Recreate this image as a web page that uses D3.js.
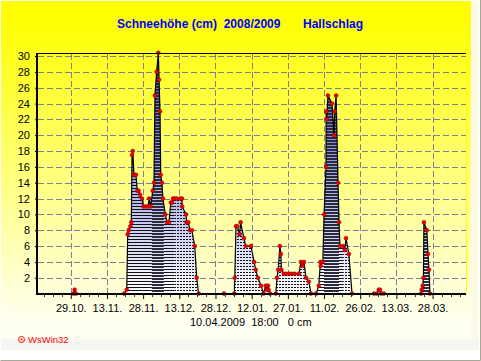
<!DOCTYPE html>
<html><head><meta charset="utf-8">
<script src="https://cdn.jsdelivr.net/npm/d3@7/dist/d3.min.js"></script>
<style>html,body{margin:0;padding:0;background:#fff;overflow:hidden}svg{display:block}
text{font-family:"Liberation Sans",Arial,sans-serif}</style></head><body>
<div id="c"></div>
<script>
// days after 29.10.2008 of each reading, with its snow height in cm
const days = [1.1,1.6,2.1,22.1,23.2,23.6,24.0,24.7,25.1,25.4,25.7,26.2,27.0,27.6,28.1,28.7,29.5,30.1,31.1,32.0,32.5,33.1,34.0,34.5,34.9,35.6,36.3,36.6,37.0,37.3,37.8,38.2,39.2,39.9,40.7,41.5,42.0,42.4,43.1,43.9,45.4,46.1,46.2,47.8,48.0,48.7,49.4,50.2,51.4,52.2,53.0,63.5,67.8,68.0,68.5,69.0,70.0,70.4,71.8,72.5,74.7,76.0,76.7,77.6,78.9,79.9,80.8,81.2,81.8,82.0,82.6,85.0,85.5,86.0,86.7,87.1,87.3,88.3,89.4,90.7,91.7,92.9,94.6,95.4,96.1,96.7,97.5,98.7,99.6,101.7,102.8,103.5,103.6,104.5,105.0,105.8,105.9,106.1,106.6,108.3,109.1,109.4,110.0,110.8,111.2,111.6,112.9,113.6,114.1,115.3,116.6,125.7,126.8,127.7,128.2,128.7,129.8,145.2,145.5,145.9,146.2,146.4,147.6,148.1,148.5,148.9];
const snow = [0,0.5,0,0,0.5,7.5,8,8.5,9,17.5,18,15,15,13,13,12.5,12,11,11,11,12,11,13,14,25,28,30.4,27,23,15,14,12,10,9,9,11.5,11.5,12,12,12,12,12,11,10,9,9,8,8,6,2,0,0,0,2,8.5,8.5,7.5,9,7,6,6,4,3,2,1,0,1,0.5,1,0.5,0,0,2,3,6,5,3,2.5,2.5,2.5,2.5,2.5,2.5,4,3.5,4,2,1.5,0,0,1,4,3.5,4,10,16,23,22,25,24,20,23,25,14,9,6,6,5.5,7,5,0,0,0,0.5,0.5,0,0,0,0.5,1,2,9,8,5,3,0];
const xTickDays = [0,15,30,45,60,75,90,105,120,135,150];
const xTickLabels = ["29.10.","13.11.","28.11.","13.12.","28.12.","12.01.","27.01.","11.02.","26.02.","13.03.","28.03."];
const yTickValues = [2,4,6,8,10,12,14,16,18,20,22,24,26,28,30];
const title = ["Schneehöhe (cm)  2008/2009","Hallschlag"];
const footer = "10.04.2009  18:00   0 cm";
const credit = "WsWin32";
// how the sample columns moire in the fill: [first day, last day]
const denseSpans = [[33.6,38.6],[105,111.2],[145,148.9]];
const rowSpans = [[23,33.6],[38.6,43],[102,105],[111.2,113]];
const dotSpans = [[43,54],[67,83],[84,100],[113,117]];

const W=481,H=361;
const svg=d3.select("#c").append("svg").attr("width",W).attr("height",H);
const defs=svg.append("defs");
const bg=defs.append("linearGradient").attr("id","bg").attr("gradientUnits","userSpaceOnUse").attr("x1",0).attr("x2",0).attr("y1",20).attr("y2",325);
bg.append("stop").attr("offset",0).attr("stop-color","#ffff00");
bg.append("stop").attr("offset",1).attr("stop-color","#fffff4");
const fg=defs.append("linearGradient").attr("id","fg").attr("gradientUnits","userSpaceOnUse").attr("x1",0).attr("x2",0).attr("y1",70).attr("y2",294);
fg.append("stop").attr("offset",0).attr("stop-color","#5a62c8");
fg.append("stop").attr("offset",0.55).attr("stop-color","#b0b6ee");
fg.append("stop").attr("offset",1).attr("stop-color","#ffffff");
const patDense=defs.append("pattern").attr("id","dense").attr("patternUnits","userSpaceOnUse").attr("width",3).attr("height",3).attr("y",293);
patDense.append("rect").attr("width",3).attr("height",2).attr("fill","#2a2a3a");
const patRows=defs.append("pattern").attr("id","rows").attr("patternUnits","userSpaceOnUse").attr("width",3).attr("height",3).attr("y",293);
patRows.append("rect").attr("width",3).attr("height",1).attr("fill","#111");
const patDots=defs.append("pattern").attr("id","dots").attr("patternUnits","userSpaceOnUse").attr("width",3).attr("height",3).attr("y",293);
patDots.append("rect").attr("width",2).attr("height",1).attr("fill","#111");

svg.append("rect").attr("width",W).attr("height",H).attr("fill","#ffffff");
svg.append("rect").attr("x",1).attr("y",339).attr("width",478).attr("height",11).attr("fill","#f5f6f2");
svg.append("rect").attr("x",1).attr("y",1).attr("width",470).attr("height",338).attr("fill","url(#bg)");
svg.append("rect").attr("x",471).attr("y",1).attr("width",8).attr("height",338).attr("fill","#fbfbe8");
svg.append("path").attr("d",`M0.5,360.5H480.5V0`).attr("fill","none").attr("stroke","#aca899");

const x=d3.scaleLinear().domain([-14,163.85]).range([37,466]);
const y=d3.scaleLinear().domain([0,30]).range([293.6,56]);

// grid
const gg=svg.append("g").attr("stroke","#807f96").attr("stroke-dasharray","6,3").attr("stroke-width",1);
gg.selectAll("line.h").data(yTickValues).join("line").attr("x1",38).attr("x2",466)
  .attr("y1",d=>Math.round(y(d))+.5).attr("y2",d=>Math.round(y(d))+.5);
gg.selectAll("line.v").data(xTickDays).join("line").attr("x1",d=>Math.round(x(d))+.5).attr("x2",d=>Math.round(x(d))+.5)
  .attr("y1",54).attr("y2",293);

// area
const pts=days.map((d,i)=>[d,snow[i]]);
const area=d3.area().x(d=>x(d[0])).y0(y(0)).y1(d=>y(d[1]));
const line=d3.line().x(d=>x(d[0])).y(d=>y(d[1]));
svg.append("path").attr("d",area(pts)).attr("fill","url(#fg)");
function hatch(spans,id){
  spans.forEach((s,i)=>{
    const cid=`${id}${i}`;
    defs.append("clipPath").attr("id",cid).append("rect").attr("x",x(s[0])).attr("width",x(s[1])-x(s[0])).attr("y",50).attr("height",245);
    svg.append("path").attr("d",area(pts)).attr("fill",`url(#${id})`).attr("clip-path",`url(#${cid})`).attr("shape-rendering","crispEdges");
  });
}
hatch(denseSpans,"dense");hatch(rowSpans,"rows");hatch(dotSpans,"dots");
svg.append("path").attr("d",line(pts)).attr("fill","none").attr("stroke","#000").attr("stroke-width",1.2);

// marks
svg.append("g").selectAll("circle").data(pts.filter(d=>d[1]>0||true)).join("circle")
  .attr("cx",d=>x(d[0])).attr("cy",d=>y(d[1])).attr("r",2).attr("fill","#f00000").attr("stroke","#700").attr("stroke-width",.4);

// frame
svg.append("line").attr("x1",37).attr("x2",466).attr("y1",53.5).attr("y2",53.5).attr("stroke","#000");
svg.append("line").attr("x1",466.5).attr("x2",466.5).attr("y1",54).attr("y2",293).attr("stroke","#ffff00");
svg.append("line").attr("x1",37).attr("x2",37).attr("y1",53).attr("y2",295).attr("stroke","#000").attr("stroke-width",2);
svg.append("line").attr("x1",36).attr("x2",466).attr("y1",294).attr("y2",294).attr("stroke","#000").attr("stroke-width",2);

// axes
const xa=d3.axisBottom(x).tickValues(xTickDays).tickSize(5).tickPadding(5).tickFormat((d,i)=>xTickLabels[i]);
const gx=svg.append("g").attr("transform","translate(0,294)").call(xa);
gx.select(".domain").remove();
gx.selectAll("text").attr("font-size",11).attr("fill","#000");
svg.append("g").selectAll("line").data(d3.range(-11.25,164,3.75).filter(d=>!xTickDays.includes(d))).join("line")
  .attr("x1",d=>Math.round(x(d))+.5).attr("x2",d=>Math.round(x(d))+.5).attr("y1",294).attr("y2",297).attr("stroke","#333");
const ya=d3.axisLeft(y).tickValues(yTickValues).tickSize(2).tickPadding(5);
const gy=svg.append("g").attr("transform","translate(37,0)").call(ya);
gy.select(".domain").remove();
gy.selectAll("text").attr("font-size",11).attr("fill","#000");

// text
const tt=svg.append("g").attr("font-size",12).attr("font-weight","bold").attr("fill","#0000ff");
tt.append("text").attr("x",117).attr("y",28).style("white-space","pre").text(title[0]);
tt.append("text").attr("x",303).attr("y",28).text(title[1]);
svg.append("text").attr("x",190).attr("y",325.5).attr("font-size",11).style("white-space","pre").text(footer);
svg.append("text").attr("x",28).attr("y",343).attr("font-size",9.5).attr("fill","#ff0000").text(credit);
svg.append("circle").attr("cx",21.5).attr("cy",339.5).attr("r",3).attr("fill","none").attr("stroke","#f00");
svg.append("circle").attr("cx",21.5).attr("cy",339.5).attr("r",1).attr("fill","#f00");
</script></body></html>
